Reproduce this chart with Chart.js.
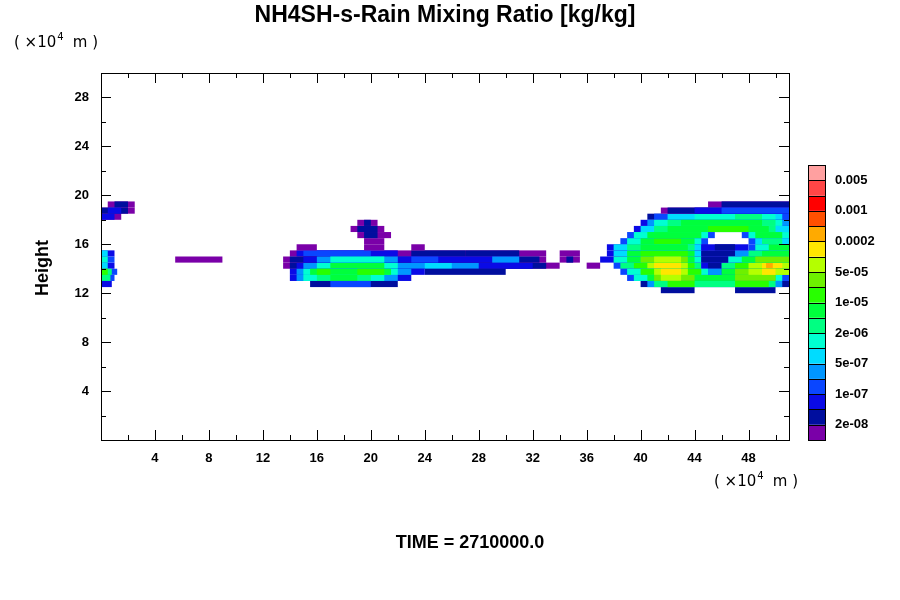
<!DOCTYPE html>
<html>
<head>
<meta charset="utf-8">
<script src="https://cdn.jsdelivr.net/npm/chart.js@4.4.0/dist/chart.umd.min.js"></script>
<style>
  body { margin: 0; background: #fff; }
  #wrap { width: 900px; height: 600px; }
</style>
</head>
<body>
<div id="wrap"><canvas id="c" width="900" height="600"></canvas></div>
<script>
// Colour levels (bottom to top of the colour bar)
const levelColors = ['#7a00a8', '#000e9e', '#0a0ae6', '#0a46ff', '#0096ff', '#00dcff', '#00ffd2', '#00ff82',
  '#00ff3c', '#28ff00', '#6ef000', '#b4ff00', '#ffe600', '#ffaa00', '#ff5000', '#ff0000', '#ff4646', '#ffa0a0'];
const levelLabels = { 1: '2e-08', 3: '1e-07', 5: '5e-07', 7: '2e-06', 9: '1e-05', 11: '5e-05', 13: '0.0002', 15: '0.001', 17: '0.005' };

const xTicks = [4, 8, 12, 16, 20, 24, 28, 32, 36, 40, 44, 48];
const yTicks = [4, 8, 12, 16, 20, 24, 28];
const rowHeight = 0.5;

// Each row (bottom height) holds spans [x0, x1, level], drawn in order (inner levels on top)
const fieldRows = {
  19.0: [[0.5,2.5,0],[1,2,1],[45,51,0],[46,51,1]],
  18.5: [[0,2.5,0],[0,2,1],[0.5,1.5,2],[41.5,51,0],[42,51,1],[44,51,2],[46,51,3]],
  18.0: [[0,1.5,0],[0,1,2],[40.5,51,1],[41,51,3],[42,50.5,5],[44,50,6],[47,49,7]],
  17.5: [[19,20.5,0],[19.5,20,1],[40,51,2],[40.5,51,4],[41,50.5,6],[42,50,7],[43,49,8]],
  17.0: [[18.5,21,0],[19,20.5,1],[39.5,51,2],[40,51,5],[41,50,7],[42,49.5,8],[45,48,9]],
  16.5: [[19,21.5,0],[19.5,20.5,1],[39,45.5,3],[39.5,45,6],[40.5,44.5,8],[47.5,51,3],[48,51,6],[48.5,50.5,8]],
  16.0: [[19.5,21,0],[38.5,45,3],[39,44.5,6],[40,44,8],[41,43,9],[48,51,3],[48.5,51,5],[49,50.5,7]],
  15.5: [[14.5,16,0],[19.5,21,0],[23,24,0],[37.5,45,2],[38,44.5,5],[39,44,7],[40,43.5,8],
         [44.5,48,2],[45.5,47,1],[48,51,3],[48.5,51,6],[49.5,51,8]],
  15.0: [[0,1,2],[0,0.5,5],[14,33,0],[14.5,22,2],[23,27,1],[27,31,1],[15,20,3],[34,35.5,0],
         [37.5,51,2],[38,44.5,5],[39,44,8],[40,43.5,9],[44.5,47,1],[47,51,4],[48,51,7],[49,51,8]],
  14.5: [[0,1,3],[0,0.5,6],[5.5,9,0],[13.5,33,0],[14,32.5,1],[15,31,2],[16,22,4],[17,21,6],[23,25,3],[29,31,4],
         [34,35.5,0],[34.5,35,1],[37,51,2],[38,44.5,6],[39,44,8],[40,43.5,10],[41,43,11],[44.5,46.5,1],
         [46.5,51,6],[47.5,51,8],[48.5,51,10]],
  14.0: [[0,1,2],[0,0.5,5],[36,37,0],[13.5,34,0],[14,33,1],[14.5,32,2],[15,28,4],[16,22,6],[17,21,8],[24,26,5],
         [38,51,3],[38.5,44.5,7],[39.5,44,9],[40.5,43.5,11],[41,43,12],[44.5,46,2],[45,46,1],
         [46,51,7],[47,51,9],[48,51,11],[49,50.5,12],[49.3,49.8,13]],
  13.5: [[0,1.2,3],[0,0.8,7],[0,0.5,9],[24,30,1],[14,24,2],[14.5,23,4],[15,22,6],[15.5,21.5,8],[16,17,9],[19,21,9],
         [38.5,51,3],[39,45,6],[40,44.5,9],[41,43.5,11],[41.5,43,12],[45,46,4],
         [46,51,8],[47,51,10],[48,51,11],[49,50,12]],
  13.0: [[0,1,3],[0,0.7,7],[14,23,2],[14.5,22,4],[15,21,6],[16,20,7],[17,19,8],
         [39,51,3],[39.5,50.5,6],[40.5,50,8],[41,44,10],[41.5,43,11],[47,50,10]],
  12.5: [[0,0.8,2],[15.5,22,1],[17,20,3],[40,51,1],[40.5,50.5,4],[41,50,7],[42,44,9],[47,49.5,9]],
  12.0: [[41.5,44,1],[47,50,1]]
};

const FONT = '"Liberation Sans", Arial, sans-serif';

const fieldPlugin = {
  id: 'field',
  beforeDatasetsDraw(chart) {
    const { ctx, scales: { x, y } } = chart;
    ctx.save();
    Object.keys(fieldRows).forEach(key => {
      const y0 = parseFloat(key);
      const top = y.getPixelForValue(y0 + rowHeight), bot = y.getPixelForValue(y0);
      fieldRows[key].forEach(([x0, x1, lv]) => {
        const l = x.getPixelForValue(x0), r = x.getPixelForValue(x1);
        ctx.fillStyle = levelColors[lv];
        ctx.fillRect(l, top, r - l, bot - top);
      });
    });
    ctx.restore();
  },
  afterDraw(chart) {
    const { ctx, chartArea: a, scales: { x, y } } = chart;
    ctx.save();
    ctx.strokeStyle = '#000';
    ctx.lineWidth = 1;
    ctx.strokeRect(a.left + 0.5, a.top + 0.5, a.right - a.left, a.bottom - a.top);
    // inward ticks, major every 4, minor every 2
    ctx.beginPath();
    for (let v = 2; v < 51; v += 2) {
      const px = Math.round(x.getPixelForValue(v)) + 0.5;
      const len = v % 4 === 0 ? 10 : 5;
      ctx.moveTo(px, a.bottom); ctx.lineTo(px, a.bottom - len);
      ctx.moveTo(px, a.top); ctx.lineTo(px, a.top + len);
    }
    for (let v = 2; v < 30; v += 2) {
      const py = Math.round(y.getPixelForValue(v)) + 0.5;
      const len = v % 4 === 0 ? 10 : 5;
      ctx.moveTo(a.left, py); ctx.lineTo(a.left + len, py);
      ctx.moveTo(a.right, py); ctx.lineTo(a.right - len, py);
    }
    ctx.stroke();

    ctx.fillStyle = '#000';
    ctx.font = 'bold 13px ' + FONT;
    ctx.textAlign = 'center'; ctx.textBaseline = 'top';
    xTicks.forEach(v => ctx.fillText(String(v), x.getPixelForValue(v), a.bottom + 12));
    ctx.textAlign = 'right'; ctx.textBaseline = 'middle';
    yTicks.forEach(v => ctx.fillText(String(v), a.left - 12, y.getPixelForValue(v)));

    // titles
    ctx.textAlign = 'center'; ctx.textBaseline = 'middle';
    ctx.font = 'bold 23px ' + FONT;
    ctx.fillText('NH4SH-s-Rain Mixing Ratio [kg/kg]', 445, 16);
    ctx.font = 'bold 18px ' + FONT;
    ctx.fillText('TIME = 2710000.0', 470, 543);
    ctx.save();
    ctx.translate(43, 268); ctx.rotate(-Math.PI / 2);
    ctx.fillText('Height', 0, 0);
    ctx.restore();

    const unit = (lx, ly) => {
      ctx.textAlign = 'left'; ctx.textBaseline = 'middle';
      ctx.font = '15px "DejaVu Sans", sans-serif';
      ctx.fillText('( \u00d710', lx, ly);
      const w = ctx.measureText('( \u00d710').width;
      ctx.font = '10px "DejaVu Sans", sans-serif';
      ctx.fillText('4', lx + w + 1, ly - 6);
      ctx.font = '15px "DejaVu Sans", sans-serif';
      ctx.fillText('  m )', lx + w + 7, ly);
    };
    unit(14, 43);
    unit(714, 482);

    // colour bar
    const cbL = 808, cbW = 17, cbB = 440, cbH = 275, n = levelColors.length, h = cbH / n;
    levelColors.forEach((c, i) => {
      ctx.fillStyle = c;
      ctx.fillRect(cbL, cbB - (i + 1) * h, cbW, h);
    });
    ctx.strokeStyle = '#000';
    ctx.beginPath();
    for (let i = 0; i <= n; i++) {
      const py = Math.round(cbB - i * h) + 0.5;
      ctx.moveTo(cbL, py); ctx.lineTo(cbL + cbW, py);
    }
    ctx.stroke();
    ctx.strokeRect(cbL + 0.5, cbB - cbH + 0.5, cbW, cbH);
    ctx.fillStyle = '#000';
    ctx.font = 'bold 13px ' + FONT;
    ctx.textAlign = 'left'; ctx.textBaseline = 'middle';
    Object.keys(levelLabels).forEach(k => ctx.fillText(levelLabels[k], 835, cbB - k * h));
    ctx.restore();
  }
};

new Chart(document.getElementById('c'), {
  type: 'scatter',
  data: { datasets: [{ data: [], pointRadius: 0 }] },
  options: {
    responsive: false,
    animation: false,
    layout: { padding: { left: 101, right: 111, top: 73, bottom: 160 } },
    plugins: { legend: { display: false }, tooltip: { enabled: false } },
    scales: {
      x: { type: 'linear', min: 0, max: 51, display: false },
      y: { type: 'linear', min: 0, max: 30, display: false }
    }
  },
  plugins: [fieldPlugin]
});
</script>
</body>
</html>
